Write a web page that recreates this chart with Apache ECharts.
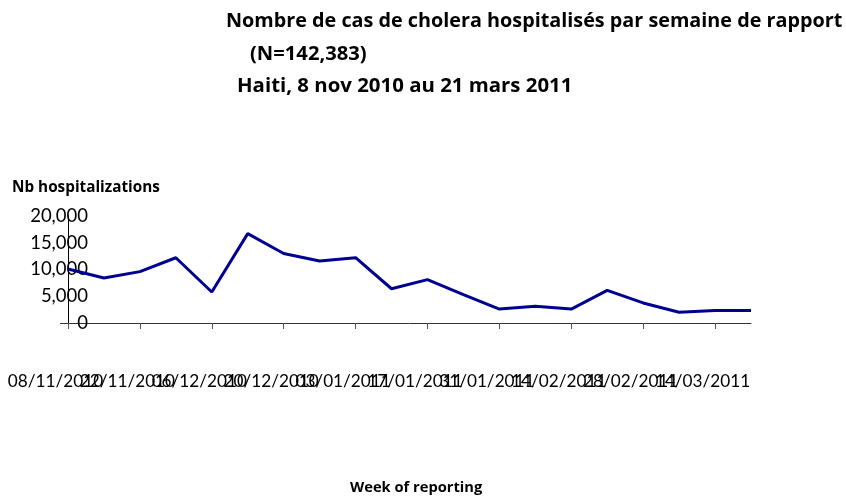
<!DOCTYPE html>
<html>
<head>
<meta charset="utf-8">
<script src="https://cdn.jsdelivr.net/npm/echarts@6/dist/echarts.min.js"></script>
<style>
html,body{margin:0;padding:0;background:#fff;}
#chart{width:846px;height:497px;}
</style>
</head>
<body>
<div id="chart"></div>
<script>
const weeks = ["08/11/2010","15/11/2010","22/11/2010","29/11/2010","06/12/2010","13/12/2010","20/12/2010","27/12/2010","03/01/2011","10/01/2011","17/01/2011","24/01/2011","31/01/2011","07/02/2011","14/02/2011","21/02/2011","28/02/2011","07/03/2011","14/03/2011","21/03/2011"];
const hospitalizations = [10100, 8400, 9600, 12200, 5800, 16700, 13000, 11600, 12200, 6400, 8100, 5300, 2600, 3150, 2600, 6100, 3750, 2000, 2350, 2350];
const titleLines = ["Nombre de cas de cholera hospitalisés par semaine de rapport", "(N=142,383)", "Haiti, 8 nov 2010 au 21 mars 2011"];
const yTitle = "Nb hospitalizations";
const xTitle = "Week of reporting";

const FONT = "Lato";
const BFONT = "Open Sans";
const everyOther = i => i % 2 === 0;
const chart = echarts.init(document.getElementById('chart'), null, {renderer: 'canvas'});
const tStyle = {fontFamily: BFONT, fontWeight: 'bold', fontSize: 19.8, color: '#000', lineHeight: 22};
chart.setOption({
  animation: false,
  backgroundColor: '#fff',
  title: [
    {text: titleLines[0], left: 226, top: 10, padding: 0, textStyle: tStyle},
    {text: titleLines[1], left: 250, top: 43, padding: 0, textStyle: Object.assign({}, tStyle, {fontSize: 20.2})},
    {text: titleLines[2], left: 237, top: 75, padding: 0, textStyle: Object.assign({}, tStyle, {fontSize: 20.4})},
    {text: yTitle, left: 12, top: 179, padding: 0, textStyle: {fontFamily: BFONT, fontWeight: 'bold', fontSize: 15.3, color: '#000', lineHeight: 18}},
    {text: xTitle, left: 350, top: 479, padding: 0, textStyle: {fontFamily: BFONT, fontWeight: 'bold', fontSize: 14.7, color: '#000', lineHeight: 18}}
  ],
  grid: {left: 68, right: 95, top: 216, bottom: 174, containLabel: false},
  xAxis: {
    type: 'category',
    data: weeks,
    boundaryGap: false,
    axisLine: {show: true, lineStyle: {color: '#333', width: 1}},
    axisTick: {show: true, interval: everyOther, length: 6, lineStyle: {color: '#555'}},
    axisLabel: {interval: 0, margin: 50, fontFamily: FONT, fontSize: 17.2, color: '#000', padding: [0, 25, 0, 0],
      hideOverlap: false,
      formatter: (v, i) => (i % 2 === 0 ? v : '')},
    splitLine: {show: false}
  },
  yAxis: {
    type: 'value',
    min: 0, max: 20000, interval: 5000,
    axisLine: {show: true, lineStyle: {color: '#000', width: 1}},
    axisTick: {show: true, customValues: [0], length: 8, lineStyle: {color: '#333'}},
    axisLabel: {margin: -20, fontFamily: FONT, fontSize: 18.5, color: '#000',
      formatter: v => v.toLocaleString('en-US')},
    splitLine: {show: false}
  },
  series: [{
    type: 'line',
    data: hospitalizations,
    showSymbol: false,
    symbol: 'none',
    lineStyle: {color: '#000090', width: 3},
    z: 1
  }]
});
</script>
</body>
</html>
